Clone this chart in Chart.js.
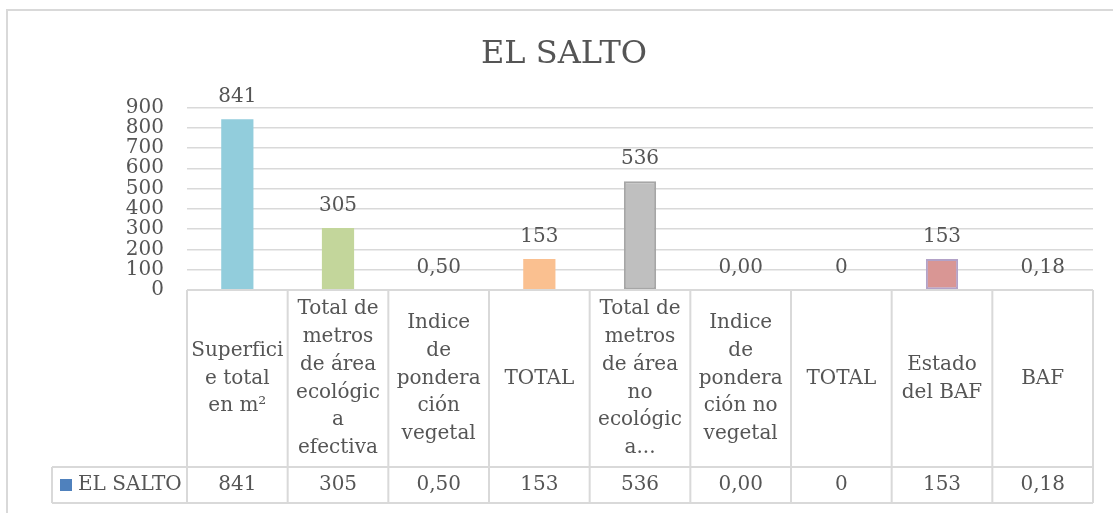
<!DOCTYPE html>
<html lang="es">
<head>
<meta charset="utf-8">
<title>EL SALTO</title>
<script src="https://cdn.jsdelivr.net/npm/chart.js@4"></script>
<style>
  html, body { margin: 0; padding: 0; background: #ffffff; }
  #wrap { width: 1113px; height: 513px; position: relative; }
</style>
</head>
<body>
<div id="wrap"><canvas id="myChart"></canvas></div>
<script>
// chart data
const chartTitle = "EL SALTO";
const seriesName = "EL SALTO";
const categories = [
  ["Superfici", "e total", "en m²"],
  ["Total de", "metros", "de área", "ecológic", "a", "efectiva"],
  ["Indice", "de", "pondera", "ción", "vegetal"],
  ["TOTAL"],
  ["Total de", "metros", "de área", "no", "ecológic", "a..."],
  ["Indice", "de", "pondera", "ción no", "vegetal"],
  ["TOTAL"],
  ["Estado", "del BAF"],
  ["BAF"],
];
const values = [841, 305, 0.5, 153, 536, 0, 0, 153, 0.18];
const decimals = [0, 0, 2, 0, 0, 2, 0, 0, 2];
const yMax = 900;
const yStep = 100;

const barColors = ["#92cddc", "#c3d69b", "#b3a2c7", "#fac090", "#bfbfbf", "#95b3d7", "#d99694", "#d99694", "#7fcaa0"];
const barBorders = ["#92cddc", "#c3d69b", "#b3a2c7", "#fac090", "#a6a6a6", "#95b3d7", "#d99694", "#b3a2c7", "#7fcaa0"];
const legendColor = "#4f81bd";

const textColor = "#555555";
const lineColor = "#d9d9d9";
const fontFamily = "'DejaVu Serif', serif";

function fmt(v, d) {
  return v.toFixed(d).replace(".", ",");
}

Chart.defaults.font.family = fontFamily;
Chart.defaults.color = textColor;

/**
 * Outer frame of the chart object
 */
const framePlugin = {
  id: "frame",
  beforeDraw(chart) {
    const ctx = chart.ctx;
    ctx.save();
    ctx.strokeStyle = lineColor;
    ctx.lineWidth = 2;
    ctx.strokeRect(7, 10, 1130, 530);
    ctx.restore();
  },
};

/**
 * Value labels over each bar
 */
const valueLabels = {
  id: "valueLabels",
  afterDatasetsDraw(chart) {
    const ctx = chart.ctx;
    const meta = chart.getDatasetMeta(0);
    ctx.save();
    ctx.font = "20px " + fontFamily;
    ctx.fillStyle = textColor;
    ctx.textAlign = "center";
    ctx.textBaseline = "alphabetic";
    meta.data.forEach((bar, i) => {
      ctx.fillText(fmt(values[i], decimals[i]), bar.x, bar.y - 17);
    });
    ctx.restore();
  },
};

/**
 * Data table under the plot, built from the x scale
 */
const dataTable = {
  id: "dataTable",
  afterDraw(chart) {
    const ctx = chart.ctx;
    const x = chart.scales.x;
    const top = chart.chartArea.bottom;
    const rowSplit = top + 177;
    const bottom = rowSplit + 36;
    const legendLeft = 52;
    const step = (x.right - x.left) / categories.length;

    ctx.save();
    ctx.strokeStyle = lineColor;
    ctx.lineWidth = 2;
    ctx.beginPath();
    ctx.moveTo(x.left, top);
    ctx.lineTo(x.right, top);
    ctx.moveTo(legendLeft, rowSplit);
    ctx.lineTo(x.right, rowSplit);
    ctx.moveTo(legendLeft, bottom);
    ctx.lineTo(x.right, bottom);
    ctx.moveTo(legendLeft, rowSplit);
    ctx.lineTo(legendLeft, bottom);
    for (let i = 0; i <= categories.length; i++) {
      const px = x.left + i * step;
      ctx.moveTo(px, top);
      ctx.lineTo(px, bottom);
    }
    ctx.stroke();

    ctx.font = "20px " + fontFamily;
    ctx.fillStyle = textColor;
    ctx.textAlign = "center";
    ctx.textBaseline = "middle";
    const lh = 27.7;
    categories.forEach((lines, i) => {
      const cx = x.getPixelForValue(i);
      const y0 = (top + rowSplit) / 2 - ((lines.length - 1) * lh) / 2;
      lines.forEach((ln, j) => ctx.fillText(ln, cx, y0 + j * lh));
      ctx.fillText(fmt(values[i], decimals[i]), cx, (rowSplit + bottom) / 2);
    });

    // legend key
    const midY = (rowSplit + bottom) / 2;
    ctx.fillStyle = legendColor;
    ctx.fillRect(60, midY - 6, 12, 12);
    ctx.fillStyle = textColor;
    ctx.textAlign = "left";
    ctx.fillText(seriesName, 78, midY);
    ctx.restore();
  },
};

const ctx = document.getElementById("myChart").getContext("2d");

const myChart = new Chart(ctx, {
  type: "bar",
  data: {
    labels: categories,
    datasets: [
      {
        label: seriesName,
        data: values,
        backgroundColor: barColors,
        borderColor: barBorders,
        borderWidth: [0, 0, 0, 0, 2, 0, 0, 2, 0],
        borderSkipped: false,
        barPercentage: 0.32,
        categoryPercentage: 1,
      },
    ],
  },
  options: {
    responsive: true,
    maintainAspectRatio: false,
    animation: false,
    layout: {
      padding: { left: 35, right: 20, top: 0, bottom: 223 },
    },
    scales: {
      x: {
        display: false,
      },
      y: {
        min: 0,
        max: yMax,
        afterFit(scale) {
          scale.width = 152;
        },
        border: {
          display: false,
        },
        grid: {
          color: lineColor,
          lineWidth: 1.5,
          drawTicks: false,
        },
        ticks: {
          stepSize: yStep,
          autoSkip: false,
          padding: 23,
          color: textColor,
          font: { size: 20 },
        },
      },
    },
    plugins: {
      legend: {
        display: false,
      },
      tooltip: {
        enabled: false,
      },
      title: {
        display: true,
        text: chartTitle,
        color: textColor,
        font: { size: 32, weight: "normal" },
        padding: { top: 35, bottom: 34 },
      },
    },
  },
  plugins: [framePlugin, valueLabels, dataTable],
});
</script>
</body>
</html>
